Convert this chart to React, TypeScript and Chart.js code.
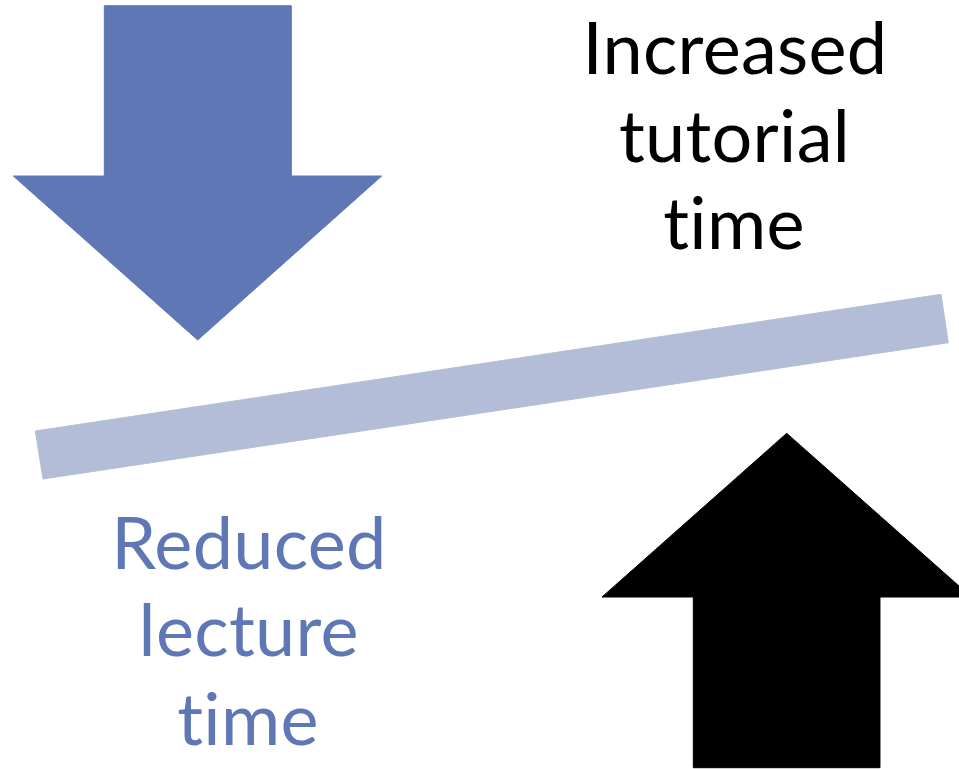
import React, { useEffect, useRef } from "react";
import { Chart, registerables } from "chart.js";

Chart.register(...registerables);

// Diagram geometry in data units (x: 0..959, y: 0..769, y grows downward)
const downArrowX = [104.3, 291, 291, 381.7, 197.7, 13.3, 104.3, 104.3];
const downArrowY = [5.7, 5.7, 176, 176, 340, 176, 176, 5.7];

const upArrowX = [786.7, 971.4, 879.7, 879.7, 693.3, 693.3, 602, 786.7];
const upArrowY = [433.3, 597, 597, 767.7, 767.7, 597, 597, 433.3];

const beamX = [35.3, 941, 948.3, 43, 35.3];
const beamY = [431, 294.3, 342.7, 479, 431];

const rightLabelLines = ["Increased", "tutorial", "time"];
const rightLabelX = [735, 734.5, 734];
const rightLabelY = [74, 162.3, 249.3];

const leftLabelLines = ["Reduced", "lecture", "time"];
const leftLabelX = [249, 248.7, 248];
const leftLabelY = [569, 656, 745];

const BLUE = "#5F77B5";
const BEAM = "#B4BDD8";
const BLACK = "#000000";

const toPoints = (xs: number[], ys: number[]) => xs.map((x, i) => ({ x, y: ys[i] }));

const labelPlugin = {
  id: "diagramLabels",
  afterDatasetsDraw(chart: any) {
    const { ctx, scales } = chart;
    const groups = [
      { lines: rightLabelLines, xs: rightLabelX, ys: rightLabelY, color: BLACK },
      { lines: leftLabelLines, xs: leftLabelX, ys: leftLabelY, color: BLUE },
    ];
    ctx.save();
    ctx.font = "72px Lato, 'Open Sans', sans-serif";
    ctx.textAlign = "center";
    ctx.textBaseline = "alphabetic";
    try {
      (ctx as any).letterSpacing = "0.3px";
      (ctx as any).textRendering = "optimizeSpeed";
    } catch (e) {
      /* ignore */
    }
    for (const g of groups) {
      ctx.fillStyle = g.color;
      g.lines.forEach((t, i) => {
        const px = scales.x.getPixelForValue(g.xs[i]);
        const py = scales.y.getPixelForValue(g.ys[i]);
        ctx.fillText(t, px, py);
      });
    }
    ctx.restore();
  },
};

export default function App() {
  const ref = useRef<HTMLCanvasElement | null>(null);

  useEffect(() => {
    document.body.style.margin = "0";
    const canvas = ref.current;
    if (!canvas) return;
    const shape = (label: string, xs: number[], ys: number[], color: string) => ({
      label,
      data: toPoints(xs, ys),
      showLine: true,
      fill: "shape",
      backgroundColor: color,
      borderColor: color,
      borderWidth: 1,
      pointRadius: 0,
      pointHoverRadius: 0,
      tension: 0,
    });
    const chart = new Chart(canvas, {
      type: "scatter",
      data: {
        datasets: [
          shape("Reduced lecture time", downArrowX, downArrowY, BLUE),
          shape("Balance", beamX, beamY, BEAM),
          shape("Increased tutorial time", upArrowX, upArrowY, BLACK),
        ] as any,
      },
      options: {
        animation: false,
        responsive: false,
        events: [],
        layout: { padding: 0 },
        plugins: {
          legend: { display: false },
          tooltip: { enabled: false },
          title: { display: false },
        },
        scales: {
          x: { type: "linear", min: 0, max: 959, display: false },
          y: { type: "linear", min: 0, max: 769, reverse: true, display: false },
        },
      },
      plugins: [labelPlugin],
    });
    return () => chart.destroy();
  }, []);

  return (
    <div style={{ width: 959, height: 769, background: "#ffffff" }}>
      <canvas ref={ref} width={959} height={769} style={{ display: "block" }} />
    </div>
  );
}
